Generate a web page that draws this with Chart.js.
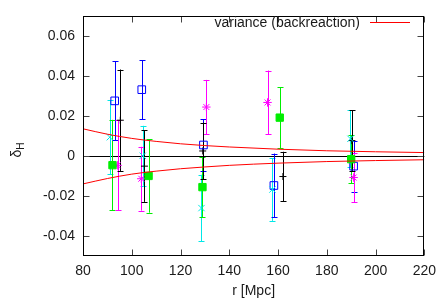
<!DOCTYPE html>
<html><head><meta charset="utf-8">
<script src="https://cdn.jsdelivr.net/npm/chart.js@4/dist/chart.umd.min.js"></script>
<style>html,body{margin:0;padding:0;background:#fff}canvas{display:block}</style>
</head><body>
<canvas id="c" width="443" height="299"></canvas>
<script>
// ---- data ----
const xTicks = [80, 100, 120, 140, 160, 180, 200, 220];
const yTicks = [-0.04, -0.02, 0, 0.02, 0.04, 0.06];

const rVar     = [80, 90, 100, 110, 120, 130, 140, 160, 180, 200, 220];
const varUpper = [0.0137, 0.0110, 0.0089, 0.0074, 0.0062, 0.0053, 0.0046, 0.0035, 0.0027, 0.0022, 0.0018];
const varLower = [-0.0139, -0.0112, -0.0090, -0.0075, -0.0063, -0.0054, -0.0046, -0.0035, -0.0027, -0.0022, -0.0018];

const cyanR = [91.0, 104.5, 128.6, 157.7, 189.7];
const cyanD = [0.0095, 0.0002, -0.0260, -0.0167, 0.0087];
const cyanE = [0.0185, 0.0150, 0.0167, 0.0157, 0.0142];

const greenR = [92.1, 106.9, 129.0, 160.7, 190.0];
const greenD = [-0.0045, -0.0099, -0.0155, 0.0193, -0.0015];
const greenE = [0.0227, 0.0184, 0.0150, 0.0152, 0.0120];

const blueR = [93.0, 104.1, 129.4, 158.3, 191.0];
const blueD = [0.0277, 0.0333, 0.0056, -0.0147, -0.0050];
const blueE = [0.0198, 0.0147, 0.0128, 0.0160, 0.0128];

const magentaR = [94.2, 103.9, 130.6, 155.7, 191.0];
const magentaD = [-0.0046, -0.0113, 0.0246, 0.0269, -0.0107];
const magentaE = [0.0226, 0.0160, 0.0136, 0.0160, 0.0124];

const blackR = [95.3, 105.2, 129.1, 162.0, 190.3];
const blackD = [0.0180, -0.0050, 0.0026, -0.0102, 0.0078];
const blackE = [0.0254, 0.0179, 0.0142, 0.0124, 0.0152];

const legendText = 'variance (backreaction)';
const xTitle = 'r [Mpc]';
const yTitleMain = 'δ';
const yTitleSub = 'H';

// ---- styling ----
const FONT = '"Liberation Sans", Arial, Helvetica, sans-serif';
const TXT = '#1a1a1a';

function pts(xs, ys) { return xs.map((x, i) => ({ x: x, y: ys[i] })); }

const series = [
  { r: cyanR, d: cyanD, e: cyanE, color: '#00e8e8', style: 'crossRot', radius: 4.5, fill: false },
  { r: greenR, d: greenD, e: greenE, color: '#00ee00', style: 'rect', radius: 5.2, fill: true },
  { r: blueR, d: blueD, e: blueE, color: '#0000ff', style: 'rect', radius: 5.4, fill: false },
  { r: magentaR, d: magentaD, e: magentaE, color: '#ff00ff', style: 'star', radius: 4.2, fill: false },
  { r: blackR, d: blackD, e: blackE, color: '#000000', style: 'cross', radius: 3.5, fill: false }
];

const datasets = [
  { type: 'line', data: pts(rVar, varUpper), borderColor: '#ff0000', borderWidth: 1, pointRadius: 0, cubicInterpolationMode: 'monotone', fill: false },
  { type: 'line', data: pts(rVar, varLower), borderColor: '#ff0000', borderWidth: 1, pointRadius: 0, cubicInterpolationMode: 'monotone', fill: false }
];
series.forEach(s => {
  datasets.push({
    type: 'scatter',
    data: pts(s.r, s.d),
    pointStyle: s.style,
    pointRadius: s.radius,
    pointHoverRadius: s.radius,
    pointBorderWidth: 1,
    borderColor: s.color,
    backgroundColor: s.fill ? s.color : 'rgba(0,0,0,0)',
    showLine: false
  });
});

const gnuPlugin = {
  id: 'gnu',
  beforeDatasetsDraw(chart) {
    const ctx = chart.ctx, xs = chart.scales.x, ys = chart.scales.y, a = chart.chartArea;
    ctx.save();
    // zero axis
    const y0 = Math.round(ys.getPixelForValue(0)) + 0.5;
    ctx.strokeStyle = '#000'; ctx.lineWidth = 1;
    ctx.beginPath(); ctx.moveTo(a.left, y0); ctx.lineTo(a.right, y0); ctx.stroke();
    // error bars
    series.forEach(s => {
      ctx.strokeStyle = s.color; ctx.lineWidth = 1;
      s.r.forEach((r, i) => {
        const px = Math.round(xs.getPixelForValue(r)) + 0.5;
        const top = ys.getPixelForValue(s.d[i] + s.e[i]);
        const bot = ys.getPixelForValue(s.d[i] - s.e[i]);
        ctx.beginPath();
        ctx.moveTo(px, top); ctx.lineTo(px, bot);
        ctx.moveTo(px - 3, Math.round(top) + 0.5); ctx.lineTo(px + 3, Math.round(top) + 0.5);
        ctx.moveTo(px - 3, Math.round(bot) + 0.5); ctx.lineTo(px + 3, Math.round(bot) + 0.5);
        ctx.stroke();
      });
    });
    ctx.restore();
  },
  afterDraw(chart) {
    const ctx = chart.ctx, xs = chart.scales.x, ys = chart.scales.y, a = chart.chartArea;
    ctx.save();
    const L = Math.round(a.left) + 0.5, R = Math.round(a.right) - 0.5;
    const T = Math.round(a.top) + 0.5, B = Math.round(a.bottom) - 0.5;
    // ticks (inside, mirrored)
    ctx.strokeStyle = '#444'; ctx.lineWidth = 1;
    ctx.beginPath();
    yTicks.forEach(v => {
      const p = Math.round(ys.getPixelForValue(v)) + 0.5;
      ctx.moveTo(L, p); ctx.lineTo(L + 6, p);
      ctx.moveTo(R, p); ctx.lineTo(R - 6, p);
    });
    xTicks.forEach(v => {
      const p = Math.round(xs.getPixelForValue(v)) + 0.5;
      ctx.moveTo(p, B); ctx.lineTo(p, B - 6);
      ctx.moveTo(p, T); ctx.lineTo(p, T + 6);
    });
    ctx.stroke();
    // border
    ctx.strokeStyle = '#000';
    ctx.strokeRect(L, T, R - L, B - T);
    // legend
    ctx.font = '14px ' + FONT;
    ctx.fillStyle = TXT;
    ctx.textAlign = 'right'; ctx.textBaseline = 'middle';
    ctx.fillText(legendText, 360, 23);
    ctx.strokeStyle = '#ff0000';
    ctx.beginPath(); ctx.moveTo(370, 22.5); ctx.lineTo(410, 22.5); ctx.stroke();
    // x title
    ctx.textAlign = 'center';
    ctx.fillText(xTitle, (a.left + a.right) / 2, 291);
    // y title (rotated, with subscript)
    ctx.translate(17, 150);
    ctx.rotate(-Math.PI / 2);
    ctx.font = '14px ' + FONT;
    const w1 = ctx.measureText(yTitleMain).width;
    ctx.font = '10px ' + FONT;
    const w2 = ctx.measureText(yTitleSub).width;
    const start = -(w1 + w2) / 2;
    ctx.textAlign = 'left';
    ctx.font = '14px ' + FONT;
    ctx.fillText(yTitleMain, start, 0);
    ctx.font = '10px ' + FONT;
    ctx.fillText(yTitleSub, start + w1, 4);
    ctx.restore();
  }
};

new Chart(document.getElementById('c'), {
  type: 'scatter',
  data: { datasets: datasets },
  options: {
    responsive: false,
    animation: false,
    events: [],
    layout: { padding: { top: 8, right: 16, left: 0, bottom: 0 } },
    plugins: { legend: { display: false }, tooltip: { enabled: false }, title: { display: false } },
    scales: {
      x: {
        type: 'linear', min: 80, max: 220,
        afterBuildTicks: sc => { sc.ticks = xTicks.map(v => ({ value: v })); },
        afterFit: sc => { sc.height = 43; },
        grid: { display: false, drawTicks: false },
        border: { display: false },
        ticks: { padding: 7, color: TXT, font: { family: FONT, size: 14 }, maxRotation: 0, autoSkip: false,
                 callback: v => String(v) }
      },
      y: {
        type: 'linear', min: -0.05, max: 0.07,
        afterBuildTicks: sc => { sc.ticks = yTicks.map(v => ({ value: v })); },
        afterFit: sc => { sc.width = 83; },
        grid: { display: false, drawTicks: false },
        border: { display: false },
        ticks: { padding: 8, color: TXT, font: { family: FONT, size: 14 }, autoSkip: false,
                 callback: v => (Math.abs(v) < 1e-9 ? '0' : String(Math.round(v * 100) / 100)) }
      }
    }
  },
  plugins: [gnuPlugin]
});
</script>
</body></html>
